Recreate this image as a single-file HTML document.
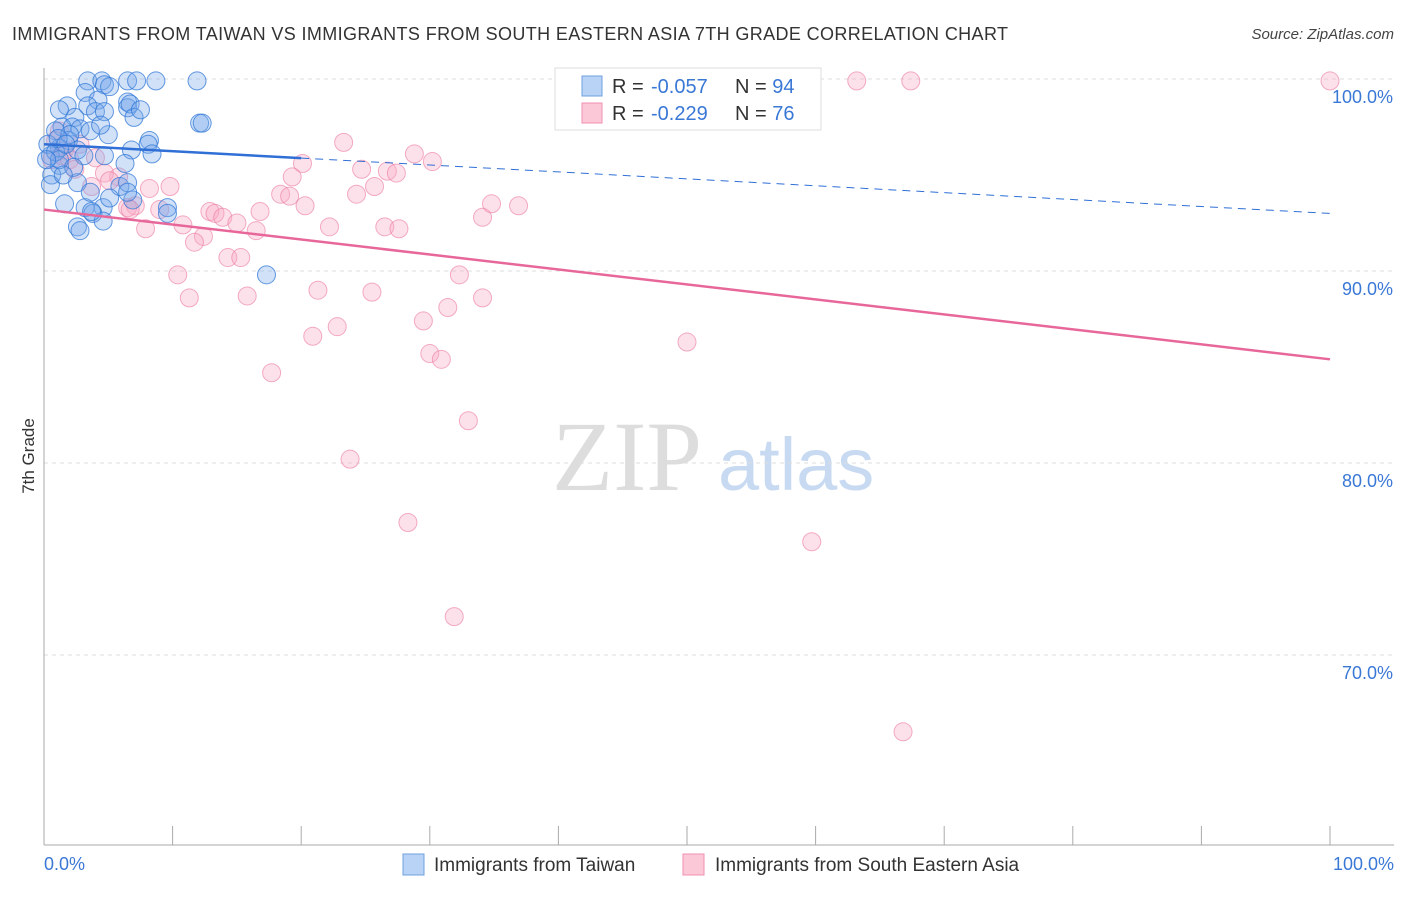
<!DOCTYPE html>
<html><head><meta charset="utf-8"><style>
body{margin:0;background:#fff;font-family:"Liberation Sans",sans-serif}
</style></head><body>
<svg id="c" width="1406" height="892" xmlns="http://www.w3.org/2000/svg">
<text x="12" y="40" font-size="18" fill="#333" textLength="996">IMMIGRANTS FROM TAIWAN VS IMMIGRANTS FROM SOUTH EASTERN ASIA 7TH GRADE CORRELATION CHART</text>
<text x="1394" y="39" font-size="15" fill="#444" text-anchor="end" font-style="italic">Source: ZipAtlas.com</text>
<text x="552" y="490" font-size="100" fill="#ddd" font-family="Liberation Serif,serif">ZIP</text>
<text x="718" y="490" font-size="74" fill="#c8daf2">atlas</text>
<text x="34" y="456" font-size="17" fill="#333" transform="rotate(-90 34 456)" text-anchor="middle">7th Grade</text>
<g id="grid"></g><g id="pts"></g><g id="lines"></g>
<g>
<rect x="555" y="68" width="266" height="62" fill="#fff" stroke="#ddd"/>
<rect x="582" y="76" width="20" height="20" fill="#b8d3f5" stroke="#6fa0e0"/>
<rect x="582" y="103" width="20" height="20" fill="#fbc8d8" stroke="#f08fb0"/>
<text x="612" y="93" font-size="20" fill="#333">R = <tspan x="651" fill="#3a78d6">-0.057</tspan></text>
<text x="735" y="93" font-size="20" fill="#333">N = <tspan fill="#3a78d6">94</tspan></text>
<text x="612" y="120" font-size="20" fill="#333">R = <tspan x="651" fill="#3a78d6">-0.229</tspan></text>
<text x="735" y="120" font-size="20" fill="#333">N = <tspan fill="#3a78d6">76</tspan></text>
</g>
<g>
<rect x="403" y="854" width="21" height="21" fill="#b8d3f5" stroke="#6fa0e0"/>
<text x="434" y="871" font-size="19" fill="#333">Immigrants from Taiwan</text>
<rect x="683" y="854" width="21" height="21" fill="#fbc8d8" stroke="#f08fb0"/>
<text x="715" y="871" font-size="19" fill="#333">Immigrants from South Eastern Asia</text>
</g>
</svg>
<script>
const yTicks=[100,90,80,70];
const xTickLabels=["0.0%","100.0%"];
const blueX=[3.4,4.5,6.5,7.2,8.7,11.9,4.7,5.1,3.2,4.2,1.8,3.4,1.2,6.5,6.5,6.7,4.0,4.7,2.4,7.0,1.4,2.2,2.8,0.9,3.6,5.0,8.2,8.1,1.9,1.2,2.6,4.7,6.8,8.4,0.5,3.1,6.3,1.2,0.6,2.6,5.9,6.5,0.5,1.6,3.2,4.6,6.9,9.6,9.6,3.8,2.6,2.8,4.6,17.3,12.1,12.3,0.3,0.9,1.2,0.2,2.0,1.1,1.7,3.6,3.7,6.5,5.1,7.5,4.4,2.3,1.5];
const blueY=[99.9,99.9,99.9,99.9,99.9,99.9,99.7,99.6,99.3,98.9,98.6,98.6,98.4,98.8,98.5,98.7,98.3,98.3,98.0,98.0,97.5,97.5,97.4,97.3,97.3,97.1,96.8,96.6,96.8,96.4,96.3,96.0,96.3,96.1,96.0,96.0,95.6,95.5,95.0,94.6,94.4,94.6,94.5,93.5,93.3,93.3,93.7,93.3,93.0,93.0,92.3,92.1,92.6,89.8,97.7,97.7,96.6,96.2,95.8,95.8,97.1,96.9,96.6,94.1,93.1,94.1,93.8,98.4,97.6,95.4,95.0];
const pinkX=[63.2,67.4,100,23.3,28.8,30.2,20.1,24.7,26.7,27.4,25.7,19.3,24.3,18.4,19.1,20.3,9.8,8.2,5.8,4.7,3.7,7.1,9.0,6.5,12.9,13.3,13.9,16.8,15.0,10.8,7.9,12.4,11.7,16.5,22.2,26.5,27.6,34.1,34.8,36.9,14.3,15.3,10.4,32.3,11.3,15.8,21.3,25.5,34.1,31.4,29.5,22.8,20.9,30.0,30.9,50.0,17.7,33.0,23.8,28.3,59.7,31.9,66.8,1.2,0.9,1.6,2.0,2.8,0.6,2.4,5.1,1.4,4.0,6.7];
const pinkY=[99.9,99.9,99.9,96.7,96.1,95.7,95.6,95.3,95.2,95.1,94.4,94.9,94.0,94.0,93.9,93.4,94.4,94.3,94.9,95.1,94.4,93.4,93.2,93.3,93.1,93.0,92.8,93.1,92.5,92.4,92.2,91.8,91.5,92.1,92.3,92.3,92.2,92.8,93.5,93.4,90.7,90.7,89.8,89.8,88.6,88.7,89.0,88.9,88.6,88.1,87.4,87.1,86.6,85.7,85.4,86.3,84.7,82.2,80.2,76.9,75.9,72.0,66.0,97.3,96.8,96.3,95.8,96.6,95.8,95.3,94.7,96.0,95.9,93.2];
const blueTrend=[96.6,93.0];
const pinkTrend=[93.2,85.4];
const X=v=>44+v*12.86, Y=v=>79+(100-v)*19.2;
const NS="http://www.w3.org/2000/svg";
function mk(t,a,p){const e=document.createElementNS(NS,t);for(const k in a)e.setAttribute(k,a[k]);p.appendChild(e);return e;}
const grid=document.getElementById('grid');
yTicks.forEach(t=>{
 const l=mk('line',{x1:44,x2:1394,y1:Y(t),y2:Y(t),stroke:'#ddd','stroke-dasharray':'4,4'},grid);
 
 
 const tx=mk('text',{x:1393,y:Y(t)+24,'font-size':18,fill:'#3a78d6','text-anchor':'end'},grid);
 tx.textContent=t.toFixed(1)+'%';
 
 
});
let ax=mk('line',{x1:44,x2:44,y1:68,y2:845,stroke:'#aaa'},grid);


ax=mk('line',{x1:44,x2:1394,y1:845,y2:845,stroke:'#aaa'},grid);


for(let i=0;i<=10;i++){const t=mk('line',{x1:X(i*10),x2:X(i*10),y1:826,y2:845,stroke:'#aaa'},grid);
 
 }
[[0,'start',44],[100,'end',1394]].forEach((d,i)=>{const t=mk('text',{x:d[2],y:870,'font-size':18,fill:'#3a78d6','text-anchor':d[1]},grid);t.textContent=xTickLabels[i];
 
 });
const pts=document.getElementById('pts');
pinkX.forEach((x,i)=>{const c=mk('circle',{cx:X(x),cy:Y(pinkY[i]),r:9,fill:'rgba(248,170,195,0.35)',stroke:'rgba(235,120,160,0.6)'},pts);
 
 });
blueX.forEach((x,i)=>{const c=mk('circle',{cx:X(x),cy:Y(blueY[i]),r:9,fill:'rgba(120,170,235,0.35)',stroke:'rgba(50,120,215,0.75)'},pts);
 
 });
const ln=document.getElementById('lines');
const by=v=>blueTrend[0]+(blueTrend[1]-blueTrend[0])*v/100;
let l=mk('line',{x1:X(0),y1:Y(by(0)),x2:X(20),y2:Y(by(20)),stroke:'#2f6fd6','stroke-width':2.5},ln);


l=mk('line',{x1:X(20),y1:Y(by(20)),x2:X(100),y2:Y(by(100)),stroke:'#2f6fd6','stroke-width':1,'stroke-dasharray':'8,6'},ln);


l=mk('line',{x1:X(0),y1:Y(pinkTrend[0]),x2:X(100),y2:Y(pinkTrend[1]),stroke:'#e8679a','stroke-width':2.5},ln);


</script>
</body></html>
